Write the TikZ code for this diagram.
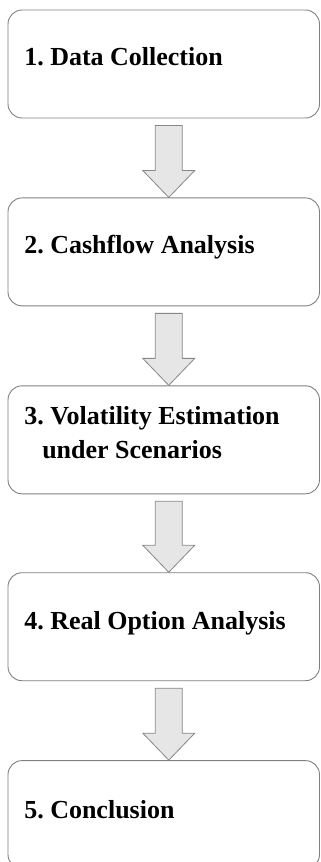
\documentclass[tikz,border=0pt]{standalone}
\usepackage{fontspec}
\setmainfont{Liberation Serif}
\usetikzlibrary{positioning,calc}

\definecolor{boxgray}{RGB}{128,128,128}
\definecolor{arrowfill}{RGB}{230,230,230}
\definecolor{arrowline}{RGB}{135,135,135}

\tikzset{
  stepbox/.style={draw=boxgray, line width=0.9pt, rounded corners=14pt, fill=white,
    minimum width=311.5pt, minimum height=108pt, inner sep=0pt},
  steplabel/.style={anchor=base west, inner sep=0pt, align=left,
    font=\fontsize{26}{34}\selectfont\bfseries\frenchspacing},
  blockarrow/.style={draw=arrowline, fill=arrowfill, line width=0.8pt, line join=miter},
}

\begin{document}
\begin{tikzpicture}[x=1pt, y=-1pt]
    \useasboundingbox (0,0) rectangle (321,862);

    % Блоки
    \node[stepbox] (s1) at (163.75,64) {};
    \node[stepbox, below=79pt of s1] (s2) {};
    \node[stepbox, below=79pt of s2] (s3) {};
    \node[stepbox, below=78pt of s3] (s4) {};
    \node[stepbox, below=79pt of s4] (s5) {};

    % Подписи (у двухстрочной base -- по нижней строке)
    \node[steplabel] (t1) at ([xshift=16.5pt, yshift=-56pt]s1.north west) {1. Data Collection};
    \node[steplabel] (t2) at ([xshift=16.5pt, yshift=-56pt]s2.north west) {2. Cashflow Analysis};
    \node[steplabel] (t3) at ([xshift=16.5pt, yshift=-73pt]s3.north west) {3. Volatility Estimation\\\hspace*{18pt}under Scenarios};
    \node[steplabel] (t4) at ([xshift=16.5pt, yshift=-57pt]s4.north west) {4. Real Option Analysis};
    \node[steplabel] (t5) at ([xshift=16.5pt, yshift=-58pt]s5.north west) {5. Conclusion};

    % Стрелки между блоками
    \foreach \a/\b in {s1/s2, s2/s3, s3/s4, s4/s5}
        \draw[blockarrow] ($(\a.south)+(-8.5,7)$) -- ($(\a.south)+(18.5,7)$)
            -- ($(\b.north)+(18.5,-27)$) -- ($(\b.north)+(31,-27)$)
            -- ($(\b.north)+(5,0)$) -- ($(\b.north)+(-21,-27)$)
            -- ($(\b.north)+(-8.5,-27)$) -- cycle;
\end{tikzpicture}
\end{document}
